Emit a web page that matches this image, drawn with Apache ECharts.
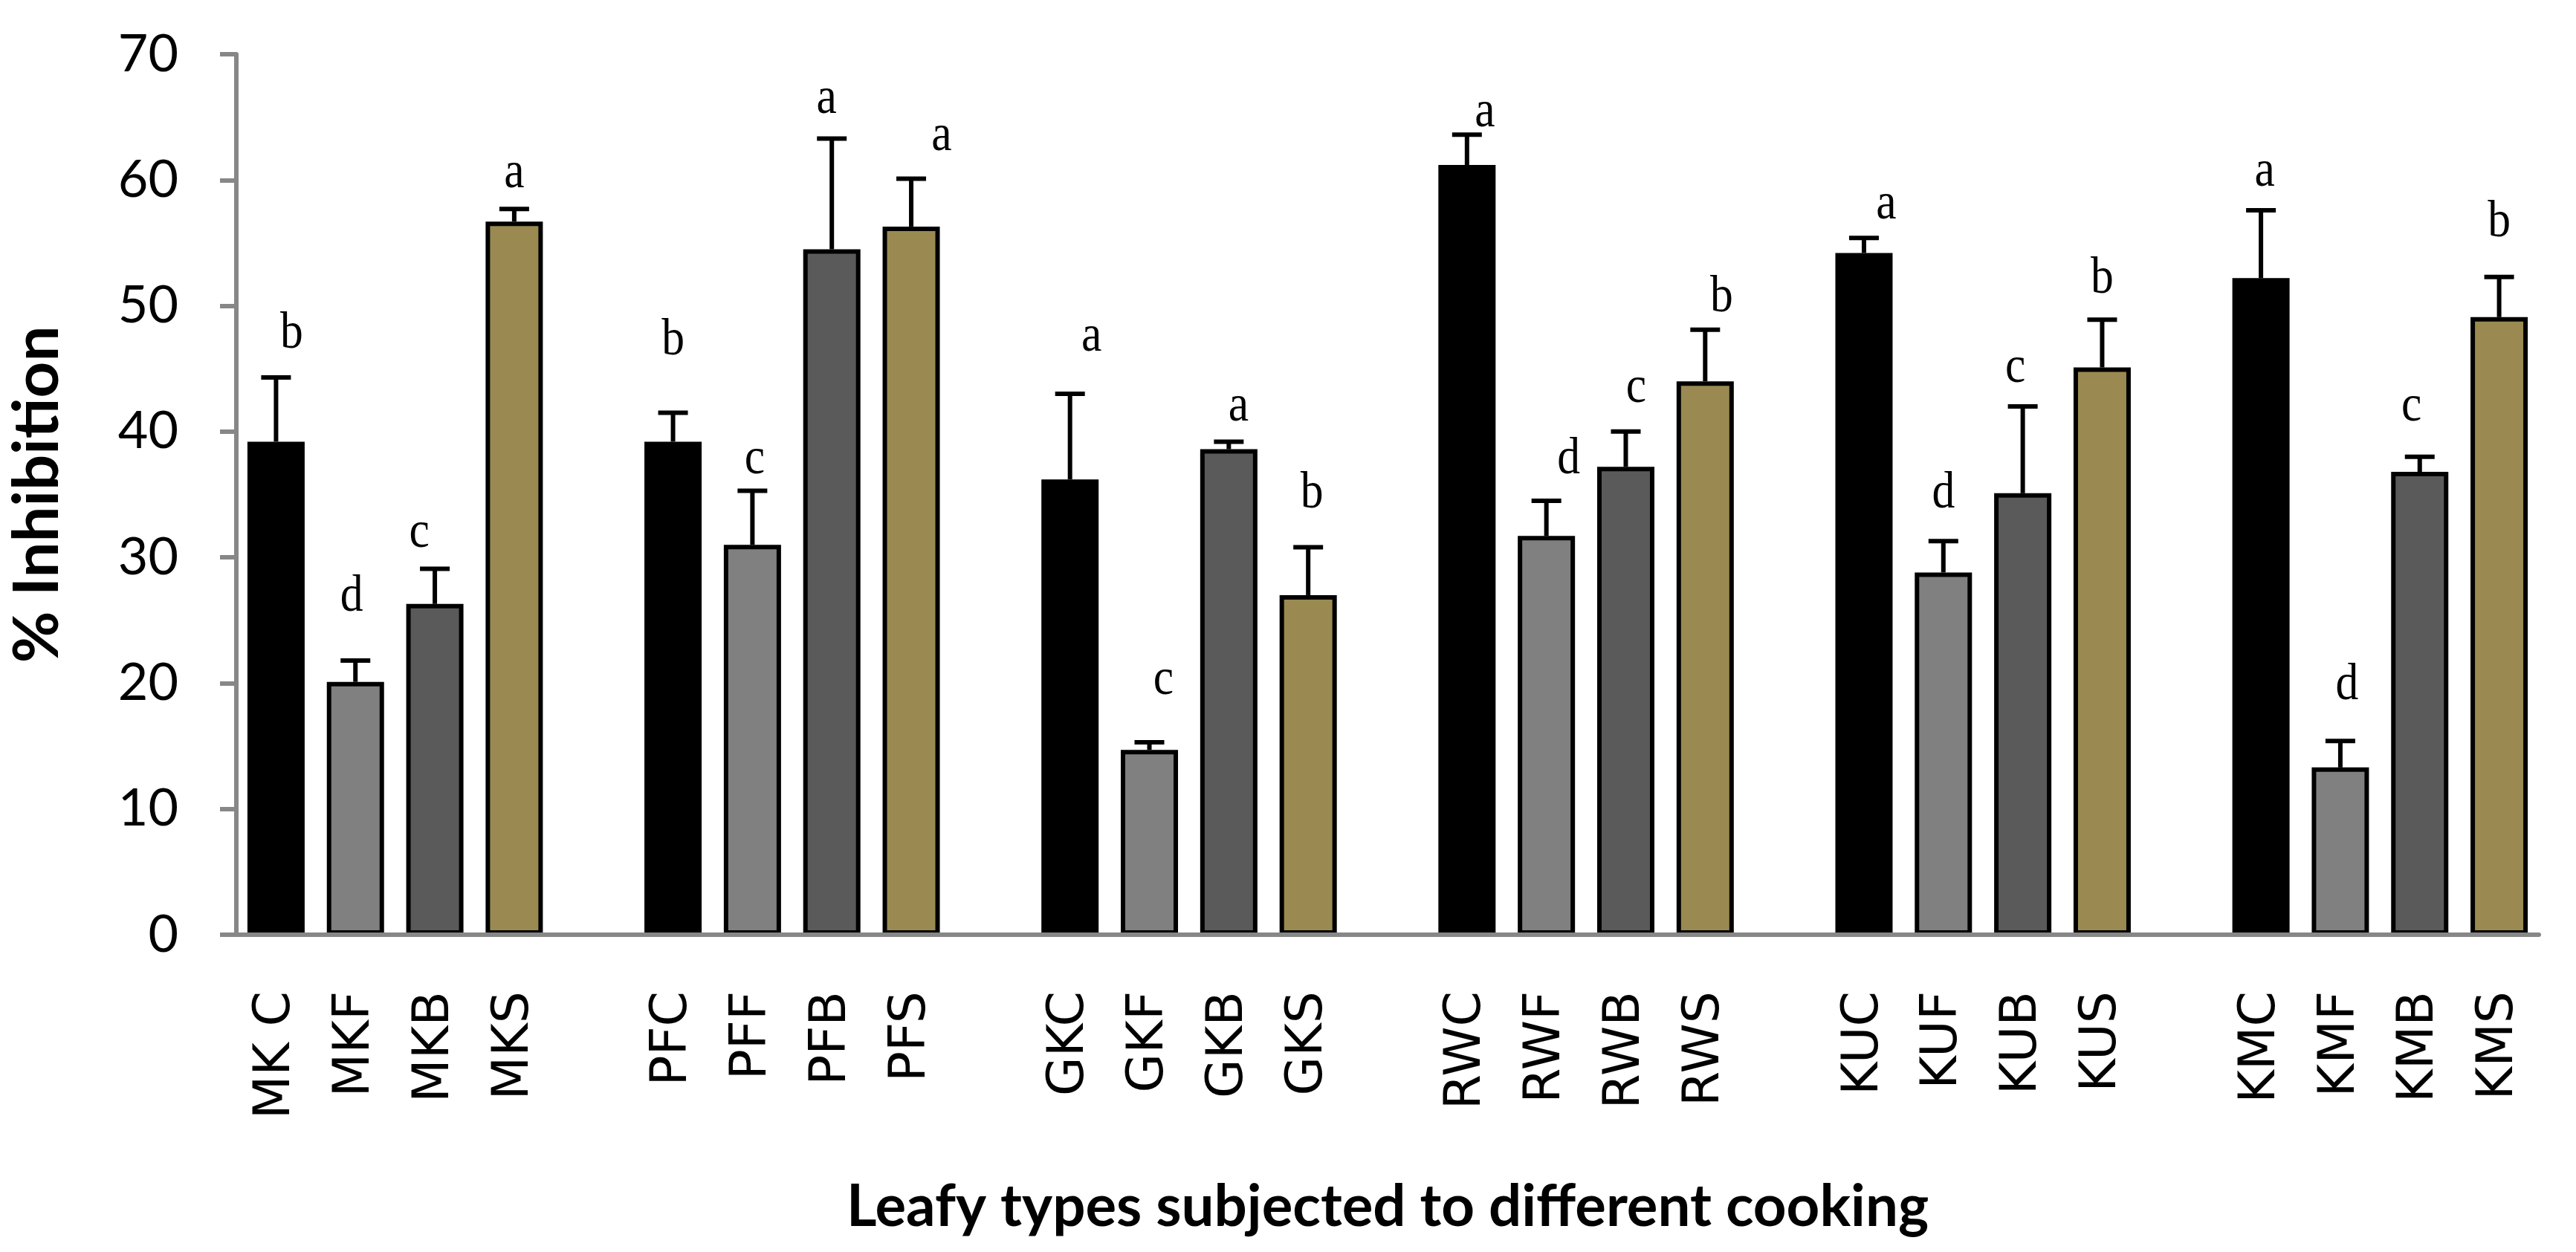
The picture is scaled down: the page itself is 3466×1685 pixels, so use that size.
<!DOCTYPE html>
<html><head><meta charset="utf-8">
<script src="https://cdn.jsdelivr.net/npm/echarts@6/dist/echarts.min.js"></script>
<style>html,body{margin:0;padding:0;background:#fff}#chart{width:3466px;height:1685px}</style>
</head><body><div id="chart"></div>
<script>
// ---- data ----
const tickLabels = ['MK C','MKF','MKB','MKS','','PFC','PFF','PFB','PFS','','GKC','GKF','GKB','GKS','','RWC','RWF','RWB','RWS','','KUC','KUF','KUB','KUS','','KMC','KMF','KMB','KMS'];
const groups = ['MK','PF','GK','RW','KU','KM'];
const meanC = [39.2, 39.2, 36.2, 61.2, 54.2, 52.2];
const meanF = [20.1, 31.0, 14.7, 31.7, 28.8, 13.3];
const meanB = [26.3, 54.5, 38.6, 37.2, 35.1, 36.8];
const meanS = [56.7, 56.3, 27.0, 44.0, 45.1, 49.1];
const errC = [5.1, 2.3, 6.8, 2.4, 1.2, 5.4];
const errF = [1.7, 4.3, 0.6, 2.8, 2.5, 2.1];
const errB = [2.8, 8.8, 0.6, 2.8, 6.9, 1.2];
const errS = [1.0, 3.8, 3.8, 4.1, 3.8, 3.2];
const letterC = ['b','b','a','a','a','a'];
const letterF = ['d','c','c','d','d','d'];
const letterB = ['c','a','a','c','c','c'];
const letterS = ['a','a','b','b','b','b'];
const letterYC = [46.5, 46.0, 46.3, 64.1, 56.8, 59.4];
const letterYF = [25.6, 36.5, 19.0, 36.5, 33.8, 18.6];
const letterYB = [30.7, 65.2, 40.7, 42.2, 43.8, 40.7];
const letterYS = [59.3, 62.2, 33.8, 49.4, 50.9, 55.4];

// ---- layout / style ----
const colors = ['#000000', '#808080', '#5a5a5a', '#9a8a51'];
const letterShift = [
  [21, 0, 29, 24, 30, 5],
  [-5, 3, 19, 30, 0, 9],
  [-21, -7, 13, 14, -10, -11],
  [0, 41, 5, 22, 0, 0]
];

const means = [meanC, meanF, meanB, meanS];
const errs = [errC, errF, errB, errS];
const letters = [letterC, letterF, letterB, letterS];
const letterYs = [letterYC, letterYF, letterYB, letterYS];

const barData = tickLabels.map(() => null);
const errData = [];
const letData = [];
const letText = [];
groups.forEach((g, gi) => {
  for (let t = 0; t < 4; t++) {
    const slot = gi * 5 + t;
    const v = means[t][gi];
    barData[slot] = { value: v, itemStyle: { color: colors[t] } };
    errData.push([slot, v, +(v + errs[t][gi]).toFixed(2)]);
    letData.push([slot, letterYs[t][gi], letterShift[t][gi]]);
    letText.push(letters[t][gi]);
  }
});

const chart = echarts.init(document.getElementById('chart'), null, { renderer: 'canvas', devicePixelRatio: 1 });
chart.setOption({
  animation: false,
  backgroundColor: '#ffffff',
  grid: { left: 302, right: 50, top: 73, bottom: 427, containLabel: false },
  xAxis: {
    type: 'category', data: tickLabels, z: 5,
    axisLine: { lineStyle: { color: '#878787', width: 6 } },
    axisTick: { show: false },
    axisLabel: { interval: 0, rotate: 90, fontFamily: 'DejaVu Sans', fontSize: 68, color: '#000', margin: 76 },
    name: 'Leafy types subjected to different cooking',
    nameLocation: 'middle', nameGap: 328,
    nameTextStyle: { fontFamily: 'Lato', fontWeight: 'bold', fontSize: 78, color: '#000' }
  },
  yAxis: {
    type: 'value', min: 0, max: 70, interval: 10, z: 5,
    axisLine: { show: true, lineStyle: { color: '#878787', width: 6 } },
    axisTick: { show: true, length: 22, lineStyle: { color: '#878787', width: 6 } },
    splitLine: { show: false },
    axisLabel: { fontFamily: 'Lato', fontSize: 70, color: '#000', margin: 78 },
    name: '% Inhibition', nameLocation: 'middle', nameRotate: 90, nameGap: 225,
    nameTextStyle: { fontFamily: 'Lato', fontWeight: 'bold', fontSize: 85, color: '#000' }
  },
  series: [
    {
      type: 'bar', data: barData, barWidth: 77,
      itemStyle: { borderColor: '#000', borderWidth: 6 }
    },
    {
      type: 'custom', data: errData, z: 4,
      encode: { x: 0, y: 1 },
      renderItem: function (params, api) {
        const x = api.value(0);
        const p0 = api.coord([x, api.value(1)]);
        const p1 = api.coord([x, api.value(2)]);
        const st = { stroke: '#000', lineWidth: 6 };
        return { type: 'group', children: [
          { type: 'line', shape: { x1: p0[0], y1: p0[1], x2: p1[0], y2: p1[1] }, style: st },
          { type: 'line', shape: { x1: p1[0] - 20, y1: p1[1], x2: p1[0] + 20, y2: p1[1] }, style: st }
        ] };
      }
    },
    {
      type: 'custom', data: letData, z: 4,
      encode: { x: 0, y: 1 },
      renderItem: function (params, api) {
        const p = api.coord([api.value(0), api.value(1)]);
        return {
          type: 'text', x: p[0] + api.value(2), y: p[1] + 14, scaleX: 0.88,
          style: { text: letText[params.dataIndex], fontFamily: 'Liberation Serif', fontSize: 70,
                   fill: '#000', align: 'center', verticalAlign: 'bottom' }
        };
      }
    }
  ]
});
</script></body></html>
